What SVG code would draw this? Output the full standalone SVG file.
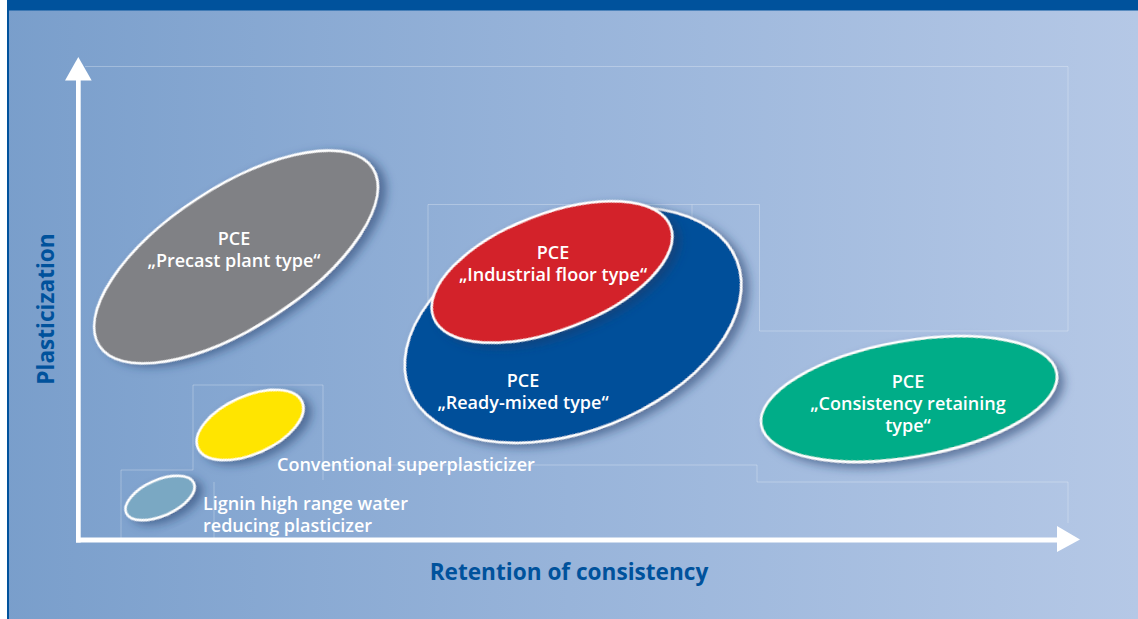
<svg xmlns="http://www.w3.org/2000/svg" width="1138" height="619" viewBox="0 0 1138 619">
  <defs>
    <linearGradient id="bg" x1="0" y1="0" x2="1" y2="0">
      <stop offset="0" stop-color="#799ECB"/>
      <stop offset="0.5" stop-color="#98B4DA"/>
      <stop offset="1" stop-color="#B5C8E6"/>
    </linearGradient>
    <filter id="shadow" x="-20%" y="-20%" width="150%" height="160%">
      <feDropShadow dx="5" dy="6" stdDeviation="5" flood-color="#1E3A66" flood-opacity="0.55"/>
    </filter>
    <style>
      .blob { stroke: #FFFFFF; stroke-width: 2.5; filter: url(#shadow); }
      .lbl { font-family: "Open Sans", "DejaVu Sans", sans-serif; font-weight: 600; font-size: 18px; fill: #FFFFFF; }
      .mid { text-anchor: middle; }
      .axislbl { font-family: "Open Sans", "DejaVu Sans", sans-serif; font-weight: 700; font-size: 22.6px; fill: #00529C; text-anchor: middle; }
      .faint { fill: none; stroke: #FFFFFF; stroke-opacity: 0.28; stroke-width: 1; }
      .axis { fill: #FFFFFF; }
    </style>
  </defs>

  <g id="background">
    <rect x="0" y="0" width="1138" height="619" fill="url(#bg)"/>
    <rect x="0" y="0" width="7" height="619" fill="#FFFFFF"/>
    <rect x="7" y="0" width="2" height="619" fill="#00529C"/>
    <rect x="7" y="0" width="1131" height="10.5" fill="#00529C"/>
  </g>

  <g id="guides">
    <path class="faint" d="M85,66.5 H1068 V331 H759.5 V204.5 H428 V330"/>
    <path class="faint" d="M692,204.5 V216"/>
    <path class="faint" d="M193,470 V385 H323 V480"/>
    <path class="faint" d="M323,465 H757 V482 H1068 V523"/>
    <path class="faint" d="M121,540 V470 H193"/>
    <path class="faint" d="M214,482 V540"/>
  </g>

  <g id="axes">
    <rect class="axis" x="76" y="79" width="4.7" height="463.5"/>
    <polygon class="axis" points="78.3,57 65,80.5 91.7,80.5"/>
    <rect class="axis" x="76" y="537.5" width="982" height="5"/>
    <polygon class="axis" points="1080,539.5 1057,526 1057,552"/>
    <text class="axislbl" x="569" y="579.5">Retention of consistency</text>
    <text class="axislbl" transform="translate(53.5,309) rotate(-90)">Plasticization</text>
  </g>

  <g id="node-precast">
    <ellipse class="blob" cx="236" cy="257" rx="163" ry="70" transform="rotate(-33 236 257)" fill="#808185"/>
    <text class="lbl mid" x="234" y="245">PCE</text>
    <text class="lbl mid" x="234" y="267">„Precast plant type“</text>
  </g>

  <g id="node-readymixed">
    <ellipse class="blob" cx="573" cy="325" rx="176" ry="106" transform="rotate(-21.5 573 325)" fill="#00509A"/>
    <text class="lbl mid" x="523" y="386.5">PCE</text>
    <text class="lbl mid" x="523" y="408.5">„Ready-mixed type“</text>
  </g>

  <g id="node-industrial">
    <ellipse class="blob" cx="552" cy="272" rx="127" ry="58" transform="rotate(-21 552 272)" fill="#D3222A"/>
    <text class="lbl mid" x="553" y="258.5">PCE</text>
    <text class="lbl mid" x="553" y="280.5">„Industrial floor type“</text>
  </g>

  <g id="node-consistency">
    <ellipse class="blob" cx="909" cy="399" rx="150" ry="58" transform="rotate(-10 909 399)" fill="#00AD88"/>
    <text class="lbl mid" x="908" y="388">PCE</text>
    <text class="lbl mid" x="908" y="410">„Consistency retaining</text>
    <text class="lbl mid" x="908" y="432">type“</text>
  </g>

  <g id="node-conventional">
    <ellipse class="blob" cx="250" cy="425" rx="57" ry="29" transform="rotate(-24 250 425)" fill="#FFE500"/>
    <text class="lbl" x="277" y="471">Conventional superplasticizer</text>
  </g>

  <g id="node-lignin">
    <ellipse class="blob" cx="160" cy="498" rx="37" ry="18" transform="rotate(-24 160 498)" fill="#7AA8C3"/>
    <text class="lbl" x="203" y="510">Lignin high range water</text>
    <text class="lbl" x="203" y="532">reducing plasticizer</text>
  </g>

  <g id="connectors"/>
</svg>
